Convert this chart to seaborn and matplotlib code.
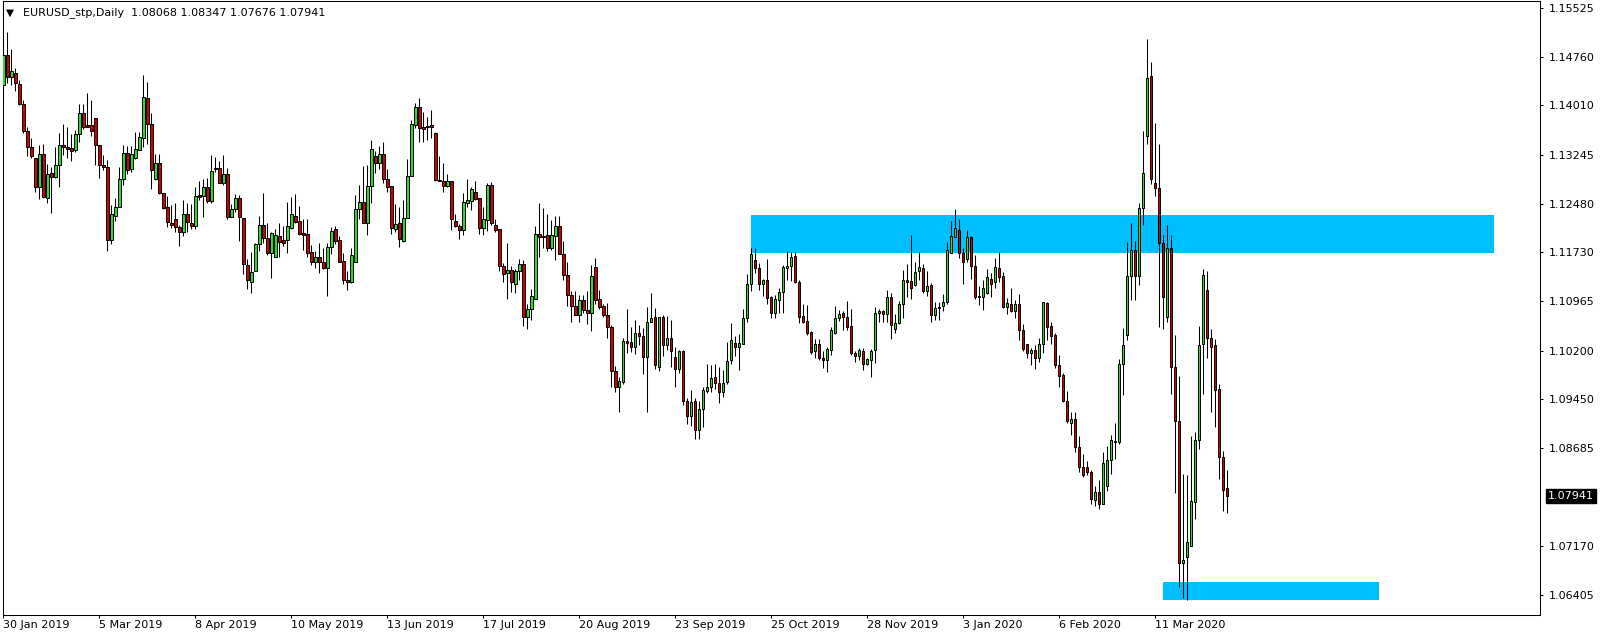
import numpy as np
import pandas as pd
import matplotlib
matplotlib.use("Agg")
import matplotlib.pyplot as plt
import matplotlib.transforms as mtransforms
import seaborn as sns

# EURUSD daily candles, 30 Jan 2019 .. 6 Apr 2020
opens = [
    1.1433, 1.1480, 1.1446, 1.1451, 1.1434, 1.1404, 1.1361, 1.1337, 1.1320, 1.1275,
    1.1325, 1.1258, 1.1296, 1.1290, 1.1308, 1.1339, 1.1337, 1.1335, 1.1332, 1.1356,
    1.1389, 1.1370, 1.1370, 1.1381, 1.1339, 1.1309, 1.1306, 1.1192, 1.1230, 1.1244,
    1.1286, 1.1327, 1.1302, 1.1320, 1.1332, 1.1350, 1.1412, 1.1373, 1.1287, 1.1311,
    1.1265, 1.1243, 1.1218, 1.1224, 1.1212, 1.1204, 1.1232, 1.1219, 1.1213, 1.1262,
    1.1261, 1.1274, 1.1252, 1.1304, 1.1304, 1.1280, 1.1295, 1.1228, 1.1240, 1.1257,
    1.1226, 1.1153, 1.1127, 1.1144, 1.1186, 1.1215, 1.1195, 1.1171, 1.1166, 1.1198,
    1.1192, 1.1192, 1.1211, 1.1229, 1.1222, 1.1203, 1.1201, 1.1173, 1.1158, 1.1165,
    1.1157, 1.1149, 1.1181, 1.1209, 1.1192, 1.1159, 1.1130, 1.1127, 1.1158, 1.1240,
    1.1251, 1.1219, 1.1276, 1.1323, 1.1311, 1.1326, 1.1287, 1.1276, 1.1209, 1.1218,
    1.1191, 1.1226, 1.1291, 1.1370, 1.1398, 1.1367, 1.1367, 1.1371, 1.1359, 1.1285,
    1.1284, 1.1276, 1.1284, 1.1222, 1.1214, 1.1207, 1.1250, 1.1253, 1.1266, 1.1257,
    1.1210, 1.1223, 1.1277, 1.1215, 1.1209, 1.1152, 1.1140, 1.1146, 1.1123, 1.1144,
    1.1155, 1.1073, 1.1084, 1.1100, 1.1202, 1.1198, 1.1200, 1.1179, 1.1198, 1.1213,
    1.1170, 1.1137, 1.1106, 1.1090, 1.1076, 1.1098, 1.1083, 1.1078, 1.1150, 1.1100,
    1.1089, 1.1076, 1.1056, 1.0988, 1.0964, 1.0972, 1.1035, 1.1033, 1.1025, 1.1047,
    1.1043, 1.1010, 1.1064, 1.1073, 1.0995, 1.1073, 1.1028, 1.1040, 1.1010, 1.0992,
    1.1019, 1.0942, 1.0918, 1.0942, 1.0896, 1.0930, 1.0958, 1.0963, 1.0979, 1.0969,
    1.0955, 1.0971, 1.1005, 1.1032, 1.1026, 1.1031, 1.1070, 1.1123, 1.1161, 1.1149,
    1.1124, 1.1130, 1.1103, 1.1079, 1.1098, 1.1111, 1.1149, 1.1151, 1.1167, 1.1127,
    1.1074, 1.1066, 1.1049, 1.1020, 1.1031, 1.1008, 1.1005, 1.1021, 1.1047, 1.1071,
    1.1078, 1.1072, 1.1058, 1.1016, 1.1012, 1.1020, 1.0999, 1.1006, 1.1021, 1.1078,
    1.1081, 1.1077, 1.1103, 1.1053, 1.1063, 1.1093, 1.1130, 1.1128, 1.1122, 1.1143,
    1.1148, 1.1112, 1.1122, 1.1075, 1.1088, 1.1089, 1.1096, 1.1172, 1.1197, 1.1208,
    1.1171, 1.1163, 1.1196, 1.1151, 1.1105, 1.1104, 1.1109, 1.1132, 1.1127, 1.1148,
    1.1136, 1.1088, 1.1093, 1.1081, 1.1093, 1.1052, 1.1030, 1.1017, 1.1021, 1.1008,
    1.1030, 1.1094, 1.1058, 1.1044, 1.0998, 1.0982, 1.0942, 1.0908, 1.0913, 1.0871,
    1.0839, 1.0839, 1.0831, 1.0788, 1.0801, 1.0781, 1.0809, 1.0850, 1.0878, 1.0878,
    1.1000, 1.1045, 1.1136, 1.1176, 1.1136, 1.1241, 1.1354, 1.1447, 1.1280, 1.1273,
    1.1188, 1.1073, 1.1180, 1.0995, 1.0911, 1.0690, 1.0699, 1.0717, 1.0784, 1.0881,
    1.1030, 1.1115, 1.1039, 1.1028, 1.0960, 1.0854, 1.08068,
]
highs = [
    1.1503, 1.1515, 1.1489, 1.1460, 1.1441, 1.1410, 1.1368, 1.1350, 1.1320, 1.1339,
    1.1341, 1.1310, 1.1306, 1.1336, 1.1359, 1.1372, 1.1367, 1.1356, 1.1363, 1.1403,
    1.1403, 1.1420, 1.1410, 1.1381, 1.1339, 1.1324, 1.1316, 1.1246, 1.1258, 1.1306,
    1.1339, 1.1338, 1.1338, 1.1360, 1.1360, 1.1448, 1.1438, 1.1390, 1.1326, 1.1326,
    1.1265, 1.1261, 1.1246, 1.1249, 1.1215, 1.1254, 1.1249, 1.1248, 1.1275, 1.1284,
    1.1287, 1.1289, 1.1324, 1.1321, 1.1315, 1.1324, 1.1304, 1.1248, 1.1263, 1.1262,
    1.1226, 1.1162, 1.1174, 1.1187, 1.1230, 1.1265, 1.1219, 1.1204, 1.1209, 1.1218,
    1.1214, 1.1251, 1.1259, 1.1263, 1.1245, 1.1225, 1.1225, 1.1184, 1.1175, 1.1188,
    1.1180, 1.1188, 1.1212, 1.1214, 1.1198, 1.1172, 1.1143, 1.1179, 1.1262, 1.1277,
    1.1307, 1.1309, 1.1347, 1.1331, 1.1338, 1.1344, 1.1303, 1.1276, 1.1248, 1.1243,
    1.1254, 1.1318, 1.1378, 1.1405, 1.1412, 1.1391, 1.1383, 1.1394, 1.1360, 1.1322,
    1.1312, 1.1295, 1.1284, 1.1233, 1.1217, 1.1265, 1.1287, 1.1275, 1.1284, 1.1258,
    1.1244, 1.1281, 1.1282, 1.1224, 1.1209, 1.1156, 1.1188, 1.1151, 1.1147, 1.1162,
    1.1161, 1.1093, 1.1116, 1.1214, 1.1249, 1.1241, 1.1232, 1.1223, 1.1230, 1.1229,
    1.1190, 1.1158, 1.1113, 1.1113, 1.1107, 1.1107, 1.1113, 1.1153, 1.1164, 1.1115,
    1.1093, 1.1094, 1.1060, 1.0996, 1.0979, 1.1039, 1.1085, 1.1057, 1.1068, 1.1060,
    1.1055, 1.1088, 1.1109, 1.1086, 1.1073, 1.1075, 1.1074, 1.1068, 1.1026, 1.1021,
    1.1021, 1.0946, 1.0959, 1.0946, 1.0941, 1.0963, 1.0999, 1.0998, 1.1000, 1.0994,
    1.0990, 1.1034, 1.1063, 1.1043, 1.1046, 1.1085, 1.1139, 1.1179, 1.1180, 1.1156,
    1.1132, 1.1163, 1.1105, 1.1106, 1.1118, 1.1153, 1.1175, 1.1173, 1.1174, 1.1130,
    1.1092, 1.1091, 1.1050, 1.1038, 1.1038, 1.1020, 1.1026, 1.1057, 1.1089, 1.1083,
    1.1082, 1.1097, 1.1085, 1.1019, 1.1024, 1.1024, 1.1008, 1.1023, 1.1088, 1.1085,
    1.1083, 1.1115, 1.1110, 1.1077, 1.1097, 1.1145, 1.1155, 1.1200, 1.1158, 1.1174,
    1.1155, 1.1144, 1.1125, 1.1096, 1.1095, 1.1108, 1.1189, 1.1222, 1.1240, 1.1225,
    1.1179, 1.1207, 1.1198, 1.1169, 1.1121, 1.1130, 1.1147, 1.1140, 1.1164, 1.1173,
    1.1142, 1.1102, 1.1118, 1.1099, 1.1108, 1.1062, 1.1031, 1.1024, 1.1028, 1.1040,
    1.1096, 1.1095, 1.1065, 1.1048, 1.1013, 1.0986, 1.0957, 1.0925, 1.0925, 1.0887,
    1.0860, 1.0849, 1.0835, 1.0809, 1.0819, 1.0862, 1.0872, 1.0889, 1.0907, 1.1007,
    1.1055, 1.1189, 1.1218, 1.1191, 1.1250, 1.1362, 1.1504, 1.1468, 1.1374, 1.1341,
    1.1200, 1.1215, 1.1200, 1.1044, 1.0981, 1.0829, 1.0827, 1.0887, 1.0893, 1.1058,
    1.1147, 1.1144, 1.1054, 1.1038, 1.0968, 1.0864, 1.08347,
]
lows = [
    1.1405, 1.1436, 1.1433, 1.1424, 1.1401, 1.1359, 1.1323, 1.1320, 1.1267, 1.1256,
    1.1258, 1.1249, 1.1234, 1.1288, 1.1275, 1.1324, 1.1320, 1.1315, 1.1328, 1.1344,
    1.1364, 1.1367, 1.1353, 1.1308, 1.1289, 1.1301, 1.1175, 1.1185, 1.1221, 1.1244,
    1.1277, 1.1294, 1.1297, 1.1318, 1.1332, 1.1336, 1.1341, 1.1271, 1.1285, 1.1264,
    1.1240, 1.1212, 1.1210, 1.1205, 1.1183, 1.1198, 1.1205, 1.1209, 1.1209, 1.1254,
    1.1228, 1.1249, 1.1250, 1.1297, 1.1280, 1.1277, 1.1225, 1.1227, 1.1235, 1.1191,
    1.1139, 1.1116, 1.1109, 1.1143, 1.1175, 1.1187, 1.1169, 1.1133, 1.1165, 1.1166,
    1.1182, 1.1172, 1.1209, 1.1219, 1.1200, 1.1176, 1.1165, 1.1153, 1.1148, 1.1141,
    1.1147, 1.1105, 1.1170, 1.1186, 1.1158, 1.1123, 1.1114, 1.1125, 1.1158, 1.1225,
    1.1219, 1.1200, 1.1250, 1.1296, 1.1302, 1.1281, 1.1267, 1.1202, 1.1205, 1.1181,
    1.1189, 1.1226, 1.1291, 1.1366, 1.1344, 1.1345, 1.1347, 1.1350, 1.1283, 1.1283,
    1.1267, 1.1275, 1.1207, 1.1212, 1.1193, 1.1200, 1.1244, 1.1239, 1.1254, 1.1201,
    1.1200, 1.1206, 1.1216, 1.1205, 1.1144, 1.1126, 1.1101, 1.1111, 1.1109, 1.1130,
    1.1058, 1.1053, 1.1068, 1.1100, 1.1166, 1.1179, 1.1175, 1.1177, 1.1161, 1.1170,
    1.1130, 1.1090, 1.1065, 1.1075, 1.1064, 1.1079, 1.1062, 1.1051, 1.1093, 1.1085,
    1.1073, 1.1040, 1.0963, 1.0956, 1.0924, 1.0968, 1.1016, 1.1018, 1.1014, 1.1029,
    1.0984, 1.0925, 1.1064, 1.0992, 1.0989, 1.1012, 1.1021, 1.0995, 1.0964, 1.0985,
    1.0936, 1.0906, 1.0903, 1.0883, 1.0882, 1.0901, 1.0954, 1.0955, 1.0961, 1.0939,
    1.0948, 1.0968, 1.1000, 1.1011, 1.0990, 1.1030, 1.1064, 1.1113, 1.1141, 1.1114,
    1.1105, 1.1093, 1.1071, 1.1071, 1.1079, 1.1079, 1.1130, 1.1128, 1.1125, 1.1063,
    1.1063, 1.1045, 1.1015, 1.1008, 1.1006, 1.0993, 1.0987, 1.1013, 1.1046, 1.1066,
    1.1052, 1.1052, 1.1013, 1.1002, 1.1005, 1.0990, 1.0998, 1.0979, 1.1001, 1.1065,
    1.1065, 1.1065, 1.1038, 1.1048, 1.1061, 1.1070, 1.1103, 1.1101, 1.1121, 1.1130,
    1.1109, 1.1105, 1.1065, 1.1068, 1.1068, 1.1081, 1.1093, 1.1171, 1.1196, 1.1164,
    1.1124, 1.1157, 1.1132, 1.1100, 1.1091, 1.1083, 1.1108, 1.1103, 1.1118, 1.1127,
    1.1086, 1.1077, 1.1080, 1.1070, 1.1036, 1.1019, 1.1008, 1.0997, 1.0991, 1.1003,
    1.1017, 1.1036, 1.1030, 1.0993, 1.0963, 1.0940, 1.0907, 1.0889, 1.0862, 1.0831,
    1.0824, 1.0827, 1.0782, 1.0778, 1.0774, 1.0781, 1.0802, 1.0828, 1.0852, 1.0875,
    1.0951, 1.1037, 1.1098, 1.1098, 1.1122, 1.1215, 1.1341, 1.1279, 1.1261, 1.1056,
    1.1054, 1.1064, 1.0953, 1.0799, 1.0653, 1.0635, 1.0633, 1.0716, 1.0759, 1.0867,
    1.0952, 1.1009, 1.0925, 1.0902, 1.0820, 1.0771, 1.07676,
]
closes = [
    1.1480, 1.1446, 1.1455, 1.1436, 1.1404, 1.1361, 1.1337, 1.1322, 1.1275, 1.1325,
    1.1259, 1.1294, 1.1290, 1.1308, 1.1339, 1.1336, 1.1334, 1.1331, 1.1356, 1.1389,
    1.1368, 1.1368, 1.1362, 1.1339, 1.1308, 1.1306, 1.1192, 1.1232, 1.1244, 1.1286,
    1.1327, 1.1301, 1.1325, 1.1334, 1.1352, 1.1414, 1.1373, 1.1301, 1.1311, 1.1265,
    1.1241, 1.1220, 1.1216, 1.1212, 1.1204, 1.1232, 1.1220, 1.1214, 1.1260, 1.1259,
    1.1274, 1.1252, 1.1299, 1.1303, 1.1280, 1.1294, 1.1227, 1.1240, 1.1257, 1.1227,
    1.1154, 1.1130, 1.1142, 1.1186, 1.1215, 1.1195, 1.1171, 1.1203, 1.1199, 1.1189,
    1.1188, 1.1214, 1.1233, 1.1220, 1.1201, 1.1200, 1.1172, 1.1157, 1.1165, 1.1158,
    1.1149, 1.1181, 1.1206, 1.1191, 1.1158, 1.1130, 1.1127, 1.1169, 1.1240, 1.1251,
    1.1219, 1.1276, 1.1333, 1.1311, 1.1326, 1.1286, 1.1275, 1.1210, 1.1217, 1.1193,
    1.1226, 1.1291, 1.1372, 1.1398, 1.1366, 1.1365, 1.1369, 1.1368, 1.1285, 1.1284,
    1.1276, 1.1284, 1.1224, 1.1214, 1.1207, 1.1251, 1.1254, 1.1271, 1.1256, 1.1210,
    1.1225, 1.1277, 1.1218, 1.1208, 1.1151, 1.1139, 1.1146, 1.1127, 1.1144, 1.1155,
    1.1073, 1.1084, 1.1105, 1.1202, 1.1197, 1.1196, 1.1180, 1.1199, 1.1213, 1.1170,
    1.1137, 1.1106, 1.1089, 1.1076, 1.1098, 1.1083, 1.1078, 1.1136, 1.1099, 1.1088,
    1.1076, 1.1056, 1.0989, 1.0964, 1.0973, 1.1035, 1.1032, 1.1025, 1.1047, 1.1042,
    1.1010, 1.1065, 1.1071, 1.0997, 1.1073, 1.1028, 1.1040, 1.1019, 1.0992, 1.1019,
    1.0942, 1.0919, 1.0940, 1.0896, 1.0930, 1.0959, 1.0964, 1.0977, 1.0969, 1.0955,
    1.0969, 1.1004, 1.1036, 1.1025, 1.1032, 1.1071, 1.1123, 1.1170, 1.1148, 1.1124,
    1.1130, 1.1102, 1.1079, 1.1100, 1.1111, 1.1150, 1.1151, 1.1166, 1.1127, 1.1073,
    1.1064, 1.1048, 1.1018, 1.1031, 1.1008, 1.1005, 1.1022, 1.1052, 1.1071, 1.1077,
    1.1072, 1.1057, 1.1016, 1.1012, 1.1021, 1.0999, 1.1007, 1.1019, 1.1078, 1.1081,
    1.1077, 1.1103, 1.1060, 1.1063, 1.1093, 1.1130, 1.1127, 1.1118, 1.1142, 1.1150,
    1.1112, 1.1120, 1.1075, 1.1087, 1.1087, 1.1095, 1.1177, 1.1198, 1.1210, 1.1171,
    1.1157, 1.1196, 1.1152, 1.1103, 1.1104, 1.1118, 1.1134, 1.1124, 1.1150, 1.1135,
    1.1088, 1.1094, 1.1081, 1.1093, 1.1052, 1.1022, 1.1017, 1.1021, 1.1009, 1.1030,
    1.1095, 1.1057, 1.1042, 1.0997, 1.0981, 1.0942, 1.0910, 1.0914, 1.0871, 1.0839,
    1.0827, 1.0832, 1.0789, 1.0801, 1.0781, 1.0846, 1.0850, 1.0881, 1.0879, 1.1000,
    1.1029, 1.1136, 1.1176, 1.1136, 1.1241, 1.1296, 1.1443, 1.1286, 1.1273, 1.1188,
    1.1104, 1.1180, 1.0995, 1.0911, 1.0690, 1.0694, 1.0722, 1.0786, 1.0881, 1.1028,
    1.1137, 1.1039, 1.1025, 1.0959, 1.0854, 1.0803, 1.07941,
]

date_labels = ["30 Jan 2019", "5 Mar 2019", "8 Apr 2019", "10 May 2019",
               "13 Jun 2019", "17 Jul 2019", "20 Aug 2019", "23 Sep 2019",
               "25 Oct 2019", "28 Nov 2019", "3 Jan 2020", "6 Feb 2020",
               "11 Mar 2020"]
bars_per_label = 24
price_ticks = [1.15525, 1.14760, 1.14010, 1.13245, 1.12480, 1.11730,
               1.10965, 1.10200, 1.09450, 1.08685, 1.07170, 1.06405]
last_price = 1.07941
header = "EURUSD_stp,Daily  1.08068 1.08347 1.07676 1.07941"

# supply/demand rectangles drawn on the chart (bar index span, price span)
zone_left = [186.9, 289.9]
zone_right = [372.8, 343.9]
zone_low = [1.1172, 1.0633]
zone_high = [1.1231, 1.0661]

df = pd.DataFrame({"open": opens, "high": highs, "low": lows, "close": closes})
df["bar"] = np.arange(len(df))
df["bull"] = df["close"] >= df["open"]
df["body_lo"] = df[["open", "close"]].min(axis=1)
df["body_h"] = (df["close"] - df["open"]).abs()

sns.set_theme(style="white")
plt.rcParams["font.family"] = ["DejaVu Sans"]

W, H = 1604, 638
fig = plt.figure(figsize=(W / 100, H / 100), dpi=100)
fig.patch.set_facecolor("white")
ax = fig.add_axes([2.7 / W, 1 - 614.5 / H, (1540 - 2.7) / W, 613.5 / H])
ax.set_facecolor("white")

for x0, x1, lo, hi in zip(zone_left, zone_right, zone_low, zone_high):
    ax.fill_between([x0, x1], lo, hi, color="#00bfff", lw=0, zorder=1)

ax.vlines(df["bar"], df["low"], df["high"], color="black", lw=0.75, zorder=2)
body_cols = np.where(df["bull"], "#22e022", "#d00000")
ax.bar(df["bar"], df["body_h"], bottom=df["body_lo"], width=0.62,
       color=body_cols, edgecolor="black", linewidth=0.7, zorder=3)

ax.set_xlim(-0.15, 384.2)
ax.set_ylim(1.06099, 1.15634)

tick_pos = np.arange(len(date_labels)) * bars_per_label
ax.set_xticks(tick_pos)
ax.set_xticklabels(date_labels, ha="left")
ax.yaxis.tick_right()
ax.set_yticks(price_ticks)
ax.set_yticklabels([f"{p:.5f}" for p in price_ticks])
ax.tick_params(axis="x", direction="out", length=2.5, width=0.75, pad=1.5,
               labelsize=8, colors="black", bottom=True)
ax.tick_params(axis="y", direction="out", length=2.5, width=0.75, pad=3.5,
               labelsize=8, colors="black", right=True, left=False)
for s in ax.spines.values():
    s.set_color("black")
    s.set_linewidth(0.75)
ax.grid(False)

# current price marker on the price scale
blend = mtransforms.blended_transform_factory(ax.transAxes, ax.transData)
ax.text(1 + 8 / 1537.3, last_price, f"{last_price:.5f}", transform=blend,
        ha="left", va="center", fontsize=8, color="white", clip_on=False,
        bbox=dict(boxstyle="square,pad=0.22", fc="black", ec="black"))

ax.text(3.5 / 1537.3, 1 - 11.5 / 613.5, "\u25bc", transform=ax.transAxes,
        ha="left", va="center", fontsize=7.5, color="black")
ax.text(20 / 1537.3, 1 - 11.5 / 613.5, header, transform=ax.transAxes,
        ha="left", va="center", fontsize=8, color="black")

fig.savefig("out.png", dpi=100, facecolor="white")
